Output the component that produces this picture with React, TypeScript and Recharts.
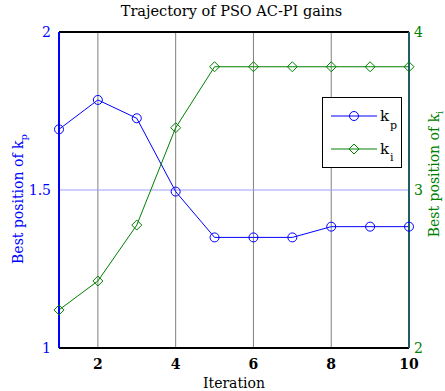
import React from 'react';
import { LineChart, Line, XAxis, YAxis, CartesianGrid, ReferenceLine, Legend } from 'recharts';

const iterations = [1, 2, 3, 4, 5, 6, 7, 8, 9, 10];
const kpValues = [1.692, 1.785, 1.727, 1.495, 1.35, 1.35, 1.35, 1.384, 1.384, 1.384];
const kiValues = [2.241, 2.424, 2.778, 3.394, 3.78, 3.78, 3.78, 3.78, 3.78, 3.78];
const xTicks = [2, 4, 6, 8, 10];
const kpTicks = [1, 1.5, 2];
const kiTicks = [2, 3, 4];

const data = iterations.map((it, i) => ({ it, kp: kpValues[i], ki: kiValues[i] }));

const FONT = '"DejaVu Serif", serif';
const BLUE = '#0000ff';
const GREEN = '#008000';

const Diamond = (props: any) => {
  const { cx, cy } = props;
  if (cx == null || cy == null) return null;
  const s = 5;
  return (
    <path
      d={`M${cx},${cy - s} L${cx + s},${cy} L${cx},${cy + s} L${cx - s},${cy} Z`}
      fill="none"
      stroke={GREEN}
      strokeWidth={1}
    />
  );
};

const CustomLegend = () => (
  <div
    style={{
      position: 'absolute',
      left: 322,
      top: 97,
      width: 78,
      height: 69,
      border: '1.5px solid #000',
      background: '#fff',
      fontFamily: FONT,
    }}
  >
    <svg width={78} height={69} style={{ display: 'block' }}>
      <line x1={8} y1={18} x2={54} y2={18} stroke={BLUE} strokeWidth={1} />
      <circle cx={31} cy={18} r={4.5} fill="none" stroke={BLUE} />
      <text x={57} y={23} fontSize={15} fill="#000" fontFamily={FONT}>k</text>
      <text x={67} y={31} fontSize={11} fill="#000" fontFamily={FONT}>p</text>
      <line x1={8} y1={51} x2={54} y2={51} stroke={GREEN} strokeWidth={1} />
      <path d="M31,46 L36,51 L31,56 L26,51 Z" fill="none" stroke={GREEN} />
      <text x={57} y={56} fontSize={15} fill="#000" fontFamily={FONT}>k</text>
      <text x={67} y={63} fontSize={11} fill="#000" fontFamily={FONT}>i</text>
    </svg>
  </div>
);

const LeftLabel = () => (
  <text transform="translate(23,199) rotate(-90)" textAnchor="middle" fill={BLUE} fontSize={14} fontFamily={FONT}>
    Best position of k
    <tspan fontSize={10} dy={4}>p</tspan>
  </text>
);

const RightLabel = () => (
  <text transform="translate(439,174) rotate(-90)" textAnchor="middle" fill={GREEN} fontSize={14} fontFamily={FONT}>
    Best position of k
    <tspan fontSize={10} dy={4}>i</tspan>
  </text>
);

const XLabel = () => (
  <text x={234} y={388} textAnchor="middle" fill="#000" fontSize={14} fontFamily={FONT}>
    Iteration
  </text>
);

export default function App() {
  return (
    <div style={{ position: 'absolute', left: 0, top: 0, width: 445, height: 391, background: '#fff' }}>
      <div
        style={{
          position: 'absolute',
          left: 0,
          top: 3,
          width: 463,
          textAlign: 'center',
          fontFamily: FONT,
          fontSize: 14.5,
          color: '#000',
        }}
      >
        Trajectory of PSO AC-PI gains
      </div>
      <LineChart width={445} height={391} data={data} margin={{ top: 32, right: 0, bottom: 0, left: 0 }}>
        <CartesianGrid horizontal={false} stroke="#808080" strokeWidth={1} />
        <XAxis
          dataKey="it"
          type="number"
          domain={[1, 10]}
          ticks={xTicks}
          height={43}
          stroke="#000"
          strokeWidth={2}
          tickSize={0}
          tickMargin={11}
          tick={{ fill: '#000', fontSize: 14, fontFamily: FONT, fontWeight: 'bold' }}
          label={<XLabel />}
        />
        <YAxis
          yAxisId="left"
          domain={[1, 2]}
          ticks={kpTicks}
          width={59}
          stroke={BLUE}
          strokeWidth={2}
          tickSize={0}
          tickMargin={8}
          tick={{ fill: BLUE, fontSize: 14, fontFamily: FONT }}
          label={<LeftLabel />}
        />
        <YAxis
          yAxisId="right"
          orientation="right"
          domain={[2, 4]}
          ticks={kiTicks}
          width={36}
          stroke="#1b5e66"
          strokeWidth={2}
          tickSize={0}
          tickMargin={5}
          tick={{ fill: GREEN, fontSize: 14, fontFamily: FONT }}
          label={<RightLabel />}
        />
        <ReferenceLine yAxisId="left" y={1.5} stroke="#a0a0ff" strokeWidth={1} />
        <ReferenceLine yAxisId="left" y={2} stroke="#000" strokeWidth={2} />
        <Legend
          layout="horizontal"
          verticalAlign="middle"
          align="center"
          content={<CustomLegend />}
          wrapperStyle={{ position: 'absolute', left: 0, top: 0, width: 0, height: 0 }}
        />
        <Line
          yAxisId="left"
          dataKey="kp"
          stroke={BLUE}
          strokeWidth={1}
          dot={{ r: 4.5, stroke: BLUE, fill: 'none', strokeWidth: 1 }}
          isAnimationActive={false}
        />
        <Line
          yAxisId="right"
          dataKey="ki"
          stroke={GREEN}
          strokeWidth={1}
          dot={<Diamond />}
          isAnimationActive={false}
        />
      </LineChart>
    </div>
  );
}
